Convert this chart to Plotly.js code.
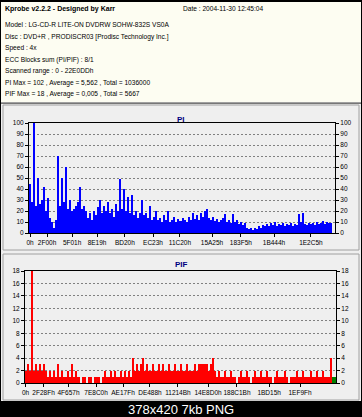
<!DOCTYPE html>
<html><head><meta charset="utf-8">
<script src="https://cdn.plot.ly/plotly-3.0.1.min.js"></script>
<style>html,body{margin:0;padding:0;background:#efefef;}#chart{width:362px;height:417px;}</style>
</head><body><div id="chart"></div>
<script>
// ---- header texts ----
const headerTitle = "Kprobe v2.2.2 - Designed by Karr";
const headerDate = "Date : 2004-11-30 12:45:04";
const headerLines = [
  "Model : LG-CD-R LITE-ON DVDRW SOHW-832S VS0A",
  "Disc : DVD+R , PRODISCR03 [Prodisc Technology Inc.]",
  "Speed : 4x",
  "ECC Blocks sum (PI/PIF) : 8/1",
  "Scanned range : 0 - 22E0DDh",
  "PI Max = 102 , Average = 5,562 , Total = 1036000",
  "PIF Max = 18 , Average = 0,005 , Total = 5667"
];
// ---- PI chart ----
const piValues = [45,28,100,25,50,26,30,42,20,32,14,10,5,12,70,25,50,28,60,22,
  30,20,22,25,28,42,22,25,20,14,18,12,20,16,24,30,18,25,20,28,
  18,22,15,26,20,49,22,40,20,33,18,35,16,20,14,18,30,16,18,14,
  25,12,15,20,12,14,10,16,12,20,10,12,15,10,13,11,14,12,10,15,
  12,18,13,16,12,18,15,20,22,14,12,15,11,13,10,12,14,17,10,12,
  9,17,10,12,8,10,7,9,5,4,5,3,5,4,6,5,7,6,8,6,
  9,7,10,6,8,7,9,6,8,7,9,6,8,7,17,10,18,8,7,9,
  8,9,7,10,8,9,11,8,10,9,9];
const piTickText = ["0h","2F00h","5F01h","8E19h","BD20h","EC23h","11C20h","15A25h","183F5h","1B444h","1E2C5h"];
const piTickPos = [0,8.5,21,33.4,47.3,61.3,74.7,90.7,105.1,121.6,140];
const piYTicks = [0,10,20,30,40,50,60,70,80,90,100];
// ---- PIF chart ----
const pifValues = [2,3,2,18,2,3,2,3,2,3,2,1,2,1,2,1,3,1,2,1,1,2,1,3,1,2,1,
  1,0,1,1,0,1,1,0,1,1,1,0,
  1,2,1,1,2,1,2,1,1,2,1,2,1,2,1,
  4,2,3,2,3,4,
  2,3,2,2,3,2,2,3,2,3,2,2,3,2,2,3,
  2,2,3,2,2,3,2,2,2,3,2,3,3,3,3,3,2,3,
  4,2,1,2,1,1,2,1,1,
  2,1,1,0,1,2,1,1,2,1,0,1,2,1,1,2,1,1,2,1,1,0,1,2,1,1,1,2,1,0,1,1,
  1,2,1,1,2,1,1,1,2,1,1,2,1,1,2,1,1,1,
  4];
const pifGreen = [1];
const pifTickText = ["0h","2F28Fh","4F657h","7E8C0h","AE17Fh","DE488h","11214Bh","14E8D0h","188C1Bh","1BD15h","1EF9Fh"];
const pifTickPos = [0,9,21.5,35.3,48.8,62.3,76.3,91.4,105.9,122,137.5];
const pifYTicks = [0,2,4,6,8,10,12,14,16,18];

const W = 362, H = 417;
const px = x => x / W, py = y => 1 - y / H;
const FONT = "Liberation Sans, Arial, sans-serif";

const idx = a => a.map((_, i) => i);

const traces = [
  {type:'bar', x: idx(piValues), y: piValues, xaxis:'x', yaxis:'y',
   marker:{color:'#0000ff', line:{width:0}}, width:1, hoverinfo:'skip', showlegend:false},
  {type:'scatter', x:[0], y:[0], xaxis:'x', yaxis:'y3', mode:'markers',
   marker:{opacity:0}, hoverinfo:'skip', showlegend:false},
  {type:'bar', x: idx(pifValues), y: pifValues, xaxis:'x2', yaxis:'y2',
   marker:{color:'#ff0000', line:{width:0}}, width:1, hoverinfo:'skip', showlegend:false},
  {type:'bar', x: pifGreen.map((_, i) => pifValues.length + i + 0.5), y: pifGreen, xaxis:'x2', yaxis:'y2',
   marker:{color:'#008000', line:{width:0}}, width:2, hoverinfo:'skip', showlegend:false},
  {type:'scatter', x:[0], y:[0], xaxis:'x2', yaxis:'y4', mode:'markers',
   marker:{opacity:0}, hoverinfo:'skip', showlegend:false}
];

const tickFont = {family: FONT, size: 6.5, color: '#000'};
const xCommon = {showgrid:false, zeroline:false, showline:true, mirror:true, linecolor:'#000', linewidth:1,
  ticks:'outside', ticklen:3, tickcolor:'#000', tickfont:tickFont, tickmode:'array', tickangle:0, fixedrange:true};
const yCommon = {showgrid:true, gridcolor:'#808080', griddash:'2px,2px', gridwidth:1, zeroline:false,
  showline:true, mirror:true, linecolor:'#000', linewidth:1, ticks:'outside', ticklen:3, tickcolor:'#000',
  tickfont:tickFont, tickmode:'array', fixedrange:true};

const layout = {
  width: W, height: H, margin:{l:0,r:0,t:0,b:0},
  paper_bgcolor:'#efefef', plot_bgcolor:'#f2f2ff',
  bargap:0, barmode:'overlay', showlegend:false,
  xaxis: Object.assign({}, xCommon, {domain:[px(29), px(335)], anchor:'y', range:[-0.5, 152],
    tickvals: piTickPos, ticktext: piTickText}),
  yaxis: Object.assign({}, yCommon, {domain:[py(233), py(123)], anchor:'x', range:[0, 100],
    tickvals: piYTicks, ticktext: piYTicks.map(String)}),
  yaxis3: Object.assign({}, yCommon, {overlaying:'y', side:'right', anchor:'x', range:[0,100], showgrid:false,
    tickvals: piYTicks, ticktext: piYTicks.map(String)}),
  xaxis2: Object.assign({}, xCommon, {domain:[px(25), px(336)], anchor:'y2', range:[-0.3, 155.5],
    tickvals: pifTickPos, ticktext: pifTickText}),
  yaxis2: Object.assign({}, yCommon, {domain:[py(383), py(271)], anchor:'x2', range:[0, 18],
    tickvals: pifYTicks, ticktext: pifYTicks.map(String)}),
  yaxis4: Object.assign({}, yCommon, {overlaying:'y2', side:'right', anchor:'x2', range:[0,18], showgrid:false,
    tickvals: pifYTicks, ticktext: pifYTicks.map(String)}),
  shapes: [
    {type:'rect', xref:'paper', yref:'paper', x0:px(0.5), x1:px(361.5), y0:py(103), y1:py(0.5),
     fillcolor:'#fdfdf2', line:{color:'#000', width:1}, layer:'below'},
    {type:'line', xref:'paper', yref:'paper', x0:0, x1:1, y0:py(1), y1:py(1), line:{color:'#000', width:2}, layer:'below'},
    {type:'line', xref:'paper', yref:'paper', x0:0, x1:1, y0:py(102.5), y1:py(102.5), line:{color:'#a0a0a0', width:1}, layer:'below'},
    {type:'rect', xref:'paper', yref:'paper', x0:px(3), x1:px(359), y0:py(250), y1:py(105),
     fillcolor:'#efefef', line:{color:'#a0a0a0', width:1}, layer:'below'},
    {type:'rect', xref:'paper', yref:'paper', x0:px(3), x1:px(359), y0:py(400), y1:py(254),
     fillcolor:'#efefef', line:{color:'#a0a0a0', width:1}, layer:'below'},
    {type:'line', xref:'paper', yref:'paper', x0:px(0.5), x1:px(0.5), y0:py(401), y1:1, line:{color:'#000', width:1}, layer:'below'},
    {type:'line', xref:'paper', yref:'paper', x0:px(361.5), x1:px(361.5), y0:py(401), y1:1, line:{color:'#000', width:1}, layer:'below'},
    {type:'rect', xref:'paper', yref:'paper', x0:0, x1:1, y0:0, y1:py(401),
     fillcolor:'#000', line:{width:0}, layer:'above'}
  ],
  annotations: []
};

const ann = (text, x, y, opts) => Object.assign({text, xref:'paper', yref:'paper', x:px(x), y:py(y),
  xanchor:'left', yanchor:'middle', showarrow:false, font:{family:FONT, size:6.6, color:'#000'}}, opts || {});

layout.annotations.push(ann('<b>' + headerTitle + '</b>', 3, 9, {font:{family:FONT, size:7, color:'#000'}}));
layout.annotations.push(ann(headerDate, 181, 9));
headerLines.forEach((t, i) => layout.annotations.push(ann(t, 3, 25 + i * 11.5)));
layout.annotations.push(ann('<b>PI</b>', 181, 119, {xanchor:'center', font:{family:FONT, size:8, color:'#000080'}}));
layout.annotations.push(ann('<b>PIF</b>', 181, 264, {xanchor:'center', font:{family:FONT, size:8, color:'#000080'}}));
layout.annotations.push(ann('378x420 7kb PNG', 181, 409, {xanchor:'center', font:{family:FONT, size:13, color:'#fff'}}));

Plotly.newPlot('chart', traces, layout, {staticPlot:true, displayModeBar:false});
</script></body></html>
